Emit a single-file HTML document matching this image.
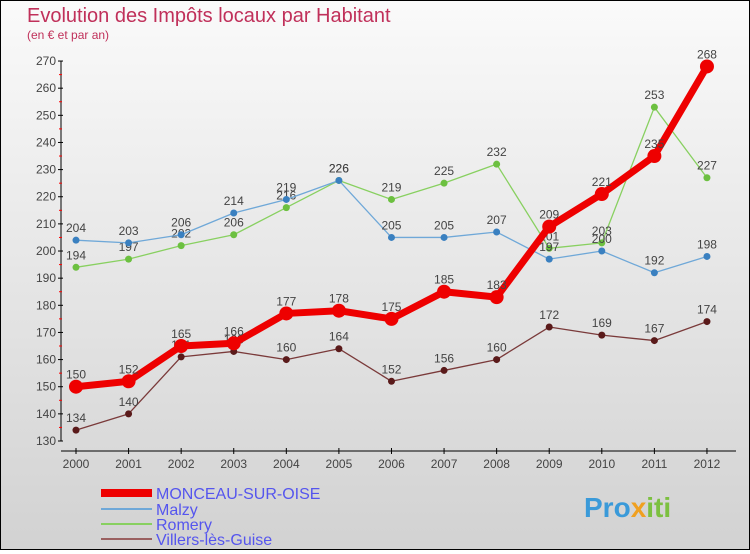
<!DOCTYPE html>
<html><head><meta charset="utf-8"><style>
html,body{margin:0;padding:0}
body{width:750px;height:550px;overflow:hidden;font-family:"Liberation Sans",sans-serif}
#frame{position:absolute;left:0;top:0;width:748px;height:548px;border:1px solid #000;background:linear-gradient(#fafafa,#d2d2d2)}
</style></head><body>
<div id="frame">
<svg id="chart" width="748" height="548" xmlns="http://www.w3.org/2000/svg">
<text x="26" y="21" font-size="20" fill="#c0305a">Evolution des Impôts locaux par Habitant</text>
<text x="26" y="38" font-size="12" fill="#c0305a">(en € et par an)</text>
<g id="axes"></g><g id="series"></g><g id="legend"></g>
<text x="583" y="516" font-size="28" font-weight="bold" fill="#3a9ad9">Pro<tspan fill="#f0a020">x</tspan><tspan fill="#7cc040">iti</tspan></text>
</svg></div>
<script>
const years=[2000,2001,2002,2003,2004,2005,2006,2007,2008,2009,2010,2011,2012];
const yTicks=[130,140,150,160,170,180,190,200,210,220,230,240,250,260,270];
const monceau=[150,152,165,166,177,178,175,185,183,209,221,235,268];
const malzy=[204,203,206,214,219,226,205,205,207,197,200,192,198];
const romery=[194,197,202,206,216,226,219,225,232,201,203,253,227];
const villers=[134,140,161,163,160,164,152,156,160,172,169,167,174];
const seriesNames=["MONCEAU-SUR-OISE","Malzy","Romery","Villers-lès-Guise"];
const NS="http://www.w3.org/2000/svg";
const xS=i=>75+i*52.58;
const yS=v=>440-(v-130)*27.14/10;
function mk(p,t,a){const e=document.createElementNS(NS,t);for(const k in a)e.setAttribute(k,a[k]);p.appendChild(e);return e;}
const ax=document.getElementById('axes');
let l=mk(ax,'line',{x1:60,y1:yS(270),x2:60,y2:yS(130),stroke:'#000'});


l=mk(ax,'line',{x1:60,y1:450,x2:735,y2:450,stroke:'#000'});


yTicks.forEach((v,i)=>{const y=yS(v);
mk(ax,'line',{x1:57,y1:y,x2:62,y2:y,stroke:'#000'});
if(i<yTicks.length-1)mk(ax,'line',{x1:58,y1:y-13.57,x2:61,y2:y-13.57,stroke:'#f00'});
const t=mk(ax,'text',{x:55,y:y+4,'font-size':12,fill:'#444','text-anchor':'end'});t.textContent=v;

});
years.forEach((yr,i)=>{const x=xS(i);
mk(ax,'line',{x1:x,y1:447,x2:x,y2:453,stroke:'#000'});
const t=mk(ax,'text',{x:x,y:467,'font-size':12,fill:'#444','text-anchor':'middle'});t.textContent=yr;

});
const sg=document.getElementById('series');
const defs=[[romery,'#88d060','#6cc040',1.3,3.5,'romery'],[malzy,'#6fa8d8','#3a80c0',1.3,3.5,'malzy'],[villers,'#7a3a3a','#5a1a1a',1.3,3.5,'villers-les-guise'],[monceau,'#ee0000','#ee0000',7,7,'monceau-sur-oise']];
defs.forEach(([d,c,mc,w,r,n])=>{const g=mk(sg,'g',{});


const p=mk(g,'polyline',{points:d.map((v,i)=>xS(i)+','+yS(v)).join(' '),fill:'none',stroke:c,'stroke-width':w,'stroke-linejoin':'round'});


d.forEach((v,i)=>{const m=mk(g,'circle',{cx:xS(i),cy:yS(v),r:r,fill:mc});


const t=mk(g,'text',{x:xS(i),y:yS(v)-8,'font-size':12,fill:'#444','text-anchor':'middle'});t.textContent=v;

});});
const lg=document.getElementById('legend');
const lc=['#ee0000','#6fa8d8','#88d060','#9a6060'],lw=[8,2,2,2],ly=[492,508,523,538];
seriesNames.forEach((s,i)=>{const g=mk(lg,'g',{});


mk(g,'line',{x1:100,y1:ly[i],x2:151,y2:ly[i],stroke:lc[i],'stroke-width':lw[i]});
const t=mk(g,'text',{x:155,y:ly[i]+6,'font-size':16,fill:'#5555ee'});t.textContent=s;});
</script>
</body></html>
